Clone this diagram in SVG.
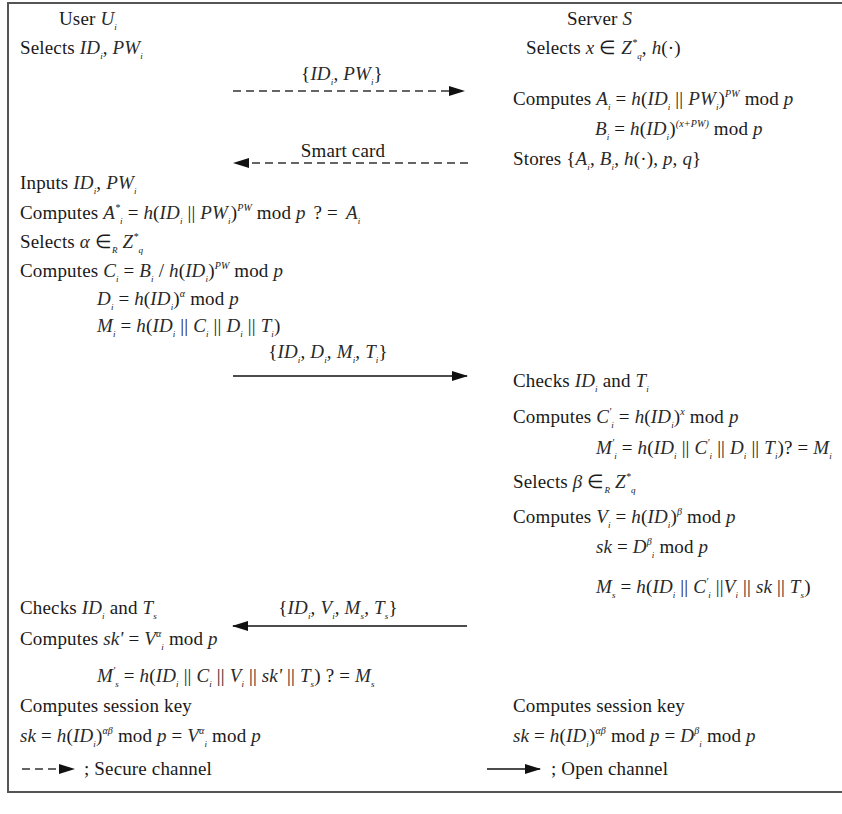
<svg xmlns="http://www.w3.org/2000/svg" width="842" height="814" viewBox="0 0 842 814">
<style>
text{font-family:'Liberation Serif','Times New Roman',Times,serif;font-size:19px;fill:#1a1a1a;letter-spacing:0.15px}
.i{font-style:italic;fill:#2a2a2a}
.sb{font-size:9px;baseline-shift:-5px;font-style:italic}
.sp{font-size:10px;baseline-shift:8px;font-style:italic}
.dash{stroke:#333;stroke-width:1.3;stroke-dasharray:8 5;fill:none}
.solid{stroke:#111;stroke-width:1.5;fill:none}
</style>
<defs>
<marker id="ah" markerUnits="userSpaceOnUse" markerWidth="16" markerHeight="10" refX="15" refY="5" orient="auto">
<path d="M0,0 L16,5 L0,10 Z" fill="#111"/>
</marker>
</defs>
<rect x="0" y="0" width="842" height="814" fill="#fff"/>
<path d="M842,3 H8 V792 H842" fill="none" stroke="#555" stroke-width="2"/>

<g id="connectors">
<line class="dash" x1="233" y1="91" x2="464" y2="91" marker-end="url(#ah)"/>
<line class="dash" x1="468" y1="163" x2="234" y2="163" marker-end="url(#ah)"/>
<line class="solid" x1="233" y1="376" x2="467" y2="376" marker-end="url(#ah)"/>
<line class="solid" x1="467" y1="626" x2="233" y2="626" stroke="#666" marker-end="url(#ah)"/>
<line class="dash" x1="22" y1="769" x2="74" y2="769" marker-end="url(#ah)"/>
<line class="solid" x1="487" y1="769" x2="540" y2="769" marker-end="url(#ah)"/>
</g>

<g id="user">
<text x="59" y="25">User <tspan class="i">U</tspan><tspan class="sb">i</tspan></text>
<text x="20" y="54">Selects <tspan class="i">ID</tspan><tspan class="sb">i</tspan>, <tspan class="i">PW</tspan><tspan class="sb">i</tspan></text>
<text x="20" y="189">Inputs <tspan class="i">ID</tspan><tspan class="sb">i</tspan>, <tspan class="i">PW</tspan><tspan class="sb">i</tspan></text>
<text x="20" y="219">Computes <tspan class="i">A</tspan><tspan class="sp">*</tspan><tspan class="sb">i</tspan> = <tspan class="i">h</tspan>(<tspan class="i">ID</tspan><tspan class="sb">i</tspan> || <tspan class="i">PW</tspan><tspan class="sb">i</tspan>)<tspan class="sp">PW</tspan> mod <tspan class="i">p</tspan><tspan dx="8">? =</tspan><tspan class="i" dx="8">A</tspan><tspan class="sb">i</tspan></text>
<text x="20" y="248">Selects <tspan class="i">α</tspan> ∈<tspan class="sb">R</tspan> <tspan class="i">Z</tspan><tspan class="sp">*</tspan><tspan class="sb">q</tspan></text>
<text x="20" y="277">Computes <tspan class="i">C</tspan><tspan class="sb">i</tspan> = <tspan class="i">B</tspan><tspan class="sb">i</tspan> / <tspan class="i">h</tspan>(<tspan class="i">ID</tspan><tspan class="sb">i</tspan>)<tspan class="sp">PW</tspan> mod <tspan class="i">p</tspan></text>
<text x="97" y="305"><tspan class="i">D</tspan><tspan class="sb">i</tspan> = <tspan class="i">h</tspan>(<tspan class="i">ID</tspan><tspan class="sb">i</tspan>)<tspan class="sp">α</tspan> mod <tspan class="i">p</tspan></text>
<text x="97" y="332"><tspan class="i">M</tspan><tspan class="sb">i</tspan> = <tspan class="i">h</tspan>(<tspan class="i">ID</tspan><tspan class="sb">i</tspan> || <tspan class="i">C</tspan><tspan class="sb">i</tspan> || <tspan class="i">D</tspan><tspan class="sb">i</tspan> || <tspan class="i">T</tspan><tspan class="sb">i</tspan>)</text>
<text x="20" y="614">Checks <tspan class="i">ID</tspan><tspan class="sb">i</tspan> and <tspan class="i">T</tspan><tspan class="sb">s</tspan></text>
<text x="20" y="645">Computes <tspan class="i">sk'</tspan> = <tspan class="i">V</tspan><tspan class="sp">α</tspan><tspan class="sb">i</tspan> mod <tspan class="i">p</tspan></text>
<text x="97" y="682"><tspan class="i">M</tspan><tspan class="sp">'</tspan><tspan class="sb">s</tspan> = <tspan class="i">h</tspan>(<tspan class="i">ID</tspan><tspan class="sb">i</tspan> || <tspan class="i">C</tspan><tspan class="sb">i</tspan> || <tspan class="i">V</tspan><tspan class="sb">i</tspan> || <tspan class="i">sk'</tspan> || <tspan class="i">T</tspan><tspan class="sb">s</tspan>) ? = <tspan class="i">M</tspan><tspan class="sb">s</tspan></text>
<text x="20" y="712">Computes session key</text>
<text x="20" y="742"><tspan class="i">sk</tspan> = <tspan class="i">h</tspan>(<tspan class="i">ID</tspan><tspan class="sb">i</tspan>)<tspan class="sp">αβ</tspan> mod <tspan class="i">p</tspan> = <tspan class="i">V</tspan><tspan class="sp">α</tspan><tspan class="sb">i</tspan> mod <tspan class="i">p</tspan></text>
</g>

<g id="server">
<text x="567" y="25">Server <tspan class="i">S</tspan></text>
<text x="526" y="54">Selects <tspan class="i">x</tspan> ∈ <tspan class="i">Z</tspan><tspan class="sp">*</tspan><tspan class="sb">q</tspan>, <tspan class="i">h</tspan>(·)</text>
<text x="513" y="105">Computes <tspan class="i">A</tspan><tspan class="sb">i</tspan> = <tspan class="i">h</tspan>(<tspan class="i">ID</tspan><tspan class="sb">i</tspan> || <tspan class="i">PW</tspan><tspan class="sb">i</tspan>)<tspan class="sp">PW</tspan> mod <tspan class="i">p</tspan></text>
<text x="595" y="135"><tspan class="i">B</tspan><tspan class="sb">i</tspan> = <tspan class="i">h</tspan>(<tspan class="i">ID</tspan><tspan class="sb">i</tspan>)<tspan class="sp">(x+PW)</tspan> mod <tspan class="i">p</tspan></text>
<text x="513" y="165">Stores {<tspan class="i">A</tspan><tspan class="sb">i</tspan>, <tspan class="i">B</tspan><tspan class="sb">i</tspan>, <tspan class="i">h</tspan>(·), <tspan class="i">p</tspan>, <tspan class="i">q</tspan>}</text>
<text x="513" y="387">Checks <tspan class="i">ID</tspan><tspan class="sb">i</tspan> and <tspan class="i">T</tspan><tspan class="sb">i</tspan></text>
<text x="513" y="423">Computes <tspan class="i">C</tspan><tspan class="sp">'</tspan><tspan class="sb">i</tspan> = <tspan class="i">h</tspan>(<tspan class="i">ID</tspan><tspan class="sb">i</tspan>)<tspan class="sp">x</tspan> mod <tspan class="i">p</tspan></text>
<text x="596" y="454"><tspan class="i">M</tspan><tspan class="sp">'</tspan><tspan class="sb">i</tspan> = <tspan class="i">h</tspan>(<tspan class="i">ID</tspan><tspan class="sb">i</tspan> || <tspan class="i">C</tspan><tspan class="sp">'</tspan><tspan class="sb">i</tspan> || <tspan class="i">D</tspan><tspan class="sb">i</tspan> || <tspan class="i">T</tspan><tspan class="sb">i</tspan>)? = <tspan class="i">M</tspan><tspan class="sb">i</tspan></text>
<text x="513" y="488">Selects <tspan class="i">β</tspan> ∈<tspan class="sb">R</tspan> <tspan class="i">Z</tspan><tspan class="sp">*</tspan><tspan class="sb">q</tspan></text>
<text x="513" y="523">Computes <tspan class="i">V</tspan><tspan class="sb">i</tspan> = <tspan class="i">h</tspan>(<tspan class="i">ID</tspan><tspan class="sb">i</tspan>)<tspan class="sp">β</tspan> mod <tspan class="i">p</tspan></text>
<text x="596" y="553"><tspan class="i">sk</tspan> = <tspan class="i">D</tspan><tspan class="sp">β</tspan><tspan class="sb">i</tspan> mod <tspan class="i">p</tspan></text>
<text x="596" y="593"><tspan class="i">M</tspan><tspan class="sb">s</tspan> = <tspan class="i">h</tspan>(<tspan class="i">ID</tspan><tspan class="sb">i</tspan> || <tspan class="i">C</tspan><tspan class="sp">'</tspan><tspan class="sb">i</tspan> ||<tspan class="i">V</tspan><tspan class="sb">i</tspan> || <tspan class="i">sk</tspan> || <tspan class="i">T</tspan><tspan class="sb">s</tspan>)</text>
<text x="513" y="712">Computes session key</text>
<text x="513" y="742"><tspan class="i">sk</tspan> = <tspan class="i">h</tspan>(<tspan class="i">ID</tspan><tspan class="sb">i</tspan>)<tspan class="sp">αβ</tspan> mod <tspan class="i">p</tspan> = <tspan class="i">D</tspan><tspan class="sp">β</tspan><tspan class="sb">i</tspan> mod <tspan class="i">p</tspan></text>
</g>

<g id="labels">
<text x="342" y="80" text-anchor="middle">{<tspan class="i">ID</tspan><tspan class="sb">i</tspan>, <tspan class="i">PW</tspan><tspan class="sb">i</tspan>}</text>
<text x="343" y="157" text-anchor="middle">Smart card</text>
<text x="328" y="358" text-anchor="middle">{<tspan class="i">ID</tspan><tspan class="sb">i</tspan>, <tspan class="i">D</tspan><tspan class="sb">i</tspan>, <tspan class="i">M</tspan><tspan class="sb">i</tspan>, <tspan class="i">T</tspan><tspan class="sb">i</tspan>}</text>
<text x="338" y="614" text-anchor="middle">{<tspan class="i">ID</tspan><tspan class="sb">i</tspan>, <tspan class="i">V</tspan><tspan class="sb">i</tspan>, <tspan class="i">M</tspan><tspan class="sb">s</tspan>, <tspan class="i">T</tspan><tspan class="sb">s</tspan>}</text>
</g>

<g id="legend">
<text x="84" y="775">;  Secure channel</text>
<text x="551" y="775">;  Open channel</text>
</g>
</svg>
